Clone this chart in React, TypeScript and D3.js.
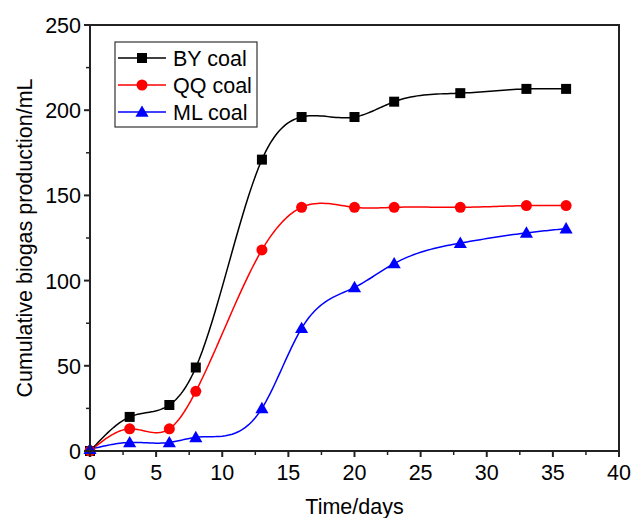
import React from "react";
import * as d3 from "d3";

// sampling days
const days = [0, 3, 6, 8, 13, 16, 20, 23, 28, 33, 36];

// cumulative biogas (mL) per coal
const byCoal = [0, 20, 27, 49, 171, 196, 196, 205, 210, 212.5, 212.5];
const qqCoal = [0, 13, 13, 35, 118, 143, 143, 143, 143, 144, 144];
const mlCoal = [1, 5, 5, 8, 25, 72, 96, 110, 122, 128, 130.5];

const seriesNames = ["BY coal", "QQ coal", "ML coal"];
const seriesColors = ["#000000", "#ff0000", "#0000ff"];
const seriesShapes = ["square", "circle", "triangle"];

const xTicks = [0, 5, 10, 15, 20, 25, 30, 35, 40];
const yTicks = [0, 50, 100, 150, 200, 250];

const W = 632;
const H = 518;
const margin = { top: 25, right: 13, bottom: 67, left: 90 };
const FONT = "'Liberation Sans', Arial, sans-serif";

// natural cubic spline y(x), sampled for drawing the smooth connecting line
function splinePoints(xs: number[], ys: number[], steps = 20): [number, number][] {
  const n = xs.length;
  const h = [];
  for (let i = 0; i < n - 1; i++) h.push(xs[i + 1] - xs[i]);
  const a = new Array(n).fill(0);
  const b = new Array(n).fill(1);
  const c = new Array(n).fill(0);
  const r = new Array(n).fill(0);
  for (let i = 1; i < n - 1; i++) {
    a[i] = h[i - 1];
    b[i] = 2 * (h[i - 1] + h[i]);
    c[i] = h[i];
    r[i] = 6 * ((ys[i + 1] - ys[i]) / h[i] - (ys[i] - ys[i - 1]) / h[i - 1]);
  }
  // Thomas algorithm
  for (let i = 1; i < n; i++) {
    const m = a[i] / b[i - 1];
    b[i] -= m * c[i - 1];
    r[i] -= m * r[i - 1];
  }
  const M = new Array(n).fill(0);
  M[n - 1] = r[n - 1] / b[n - 1];
  for (let i = n - 2; i >= 0; i--) M[i] = (r[i] - c[i] * M[i + 1]) / b[i];

  const out: [number, number][] = [];
  for (let i = 0; i < n - 1; i++) {
    for (let s = 0; s < steps; s++) {
      const t = xs[i] + (h[i] * s) / steps;
      const A = (xs[i + 1] - t) / h[i];
      const B = (t - xs[i]) / h[i];
      const v =
        A * ys[i] +
        B * ys[i + 1] +
        ((A * A * A - A) * M[i] + (B * B * B - B) * M[i + 1]) * (h[i] * h[i]) / 6;
      out.push([t, v]);
    }
  }
  out.push([xs[n - 1], ys[n - 1]]);
  return out;
}

const Marker = ({ shape, x, y, color }) => {
  if (shape === "square") {
    return <rect x={x - 5} y={y - 5} width={10} height={10} fill={color} />;
  }
  if (shape === "circle") {
    return <circle cx={x} cy={y} r={5.5} fill={color} />;
  }
  const tri = d3.symbol(d3.symbolTriangle, 75)();
  return <path d={tri} transform={`translate(${x},${y + 1})`} fill={color} />;
};

export default function App() {
  const x = d3
    .scaleLinear()
    .domain([0, 40])
    .range([margin.left, W - margin.right]);
  const y = d3
    .scaleLinear()
    .domain([0, 250])
    .range([H - margin.bottom, margin.top]);

  const allSeries = [byCoal, qqCoal, mlCoal];

  const line = d3
    .line<[number, number]>()
    .x((d) => x(d[0]))
    .y((d) => y(d[1]));

  const minorX = d3.range(2.5, 40, 5);
  const minorY = d3.range(25, 250, 50);
  const x0 = margin.left;
  const y0 = H - margin.bottom;

  return (
    <svg
      width={W}
      height={H}
      style={{ position: "absolute", left: 0, top: 0, background: "#fff" }}
      fontFamily={FONT}
    >
      {/* series lines */}
      {allSeries.map((vals, i) => (
        <path
          key={"l" + i}
          d={line(splinePoints(days, vals))}
          fill="none"
          stroke={seriesColors[i]}
          strokeWidth={1.5}
        />
      ))}
      {/* markers */}
      {allSeries.map((vals, i) =>
        days.map((d, j) => (
          <Marker
            key={i + "-" + j}
            shape={seriesShapes[i]}
            x={x(d)}
            y={y(vals[j])}
            color={seriesColors[i]}
          />
        ))
      )}

      {/* frame */}
      <rect
        x={x0}
        y={margin.top}
        width={W - margin.right - margin.left}
        height={y0 - margin.top}
        fill="none"
        stroke="#222"
        strokeWidth={2}
      />

      {/* x ticks */}
      {xTicks.map((t) => (
        <g key={"xt" + t}>
          <line x1={x(t)} x2={x(t)} y1={y0} y2={y0 + 6} stroke="#222" strokeWidth={2} />
          <text x={x(t)} y={y0 + 29} textAnchor="middle" fontSize={21.5} fill="#000">
            {t}
          </text>
        </g>
      ))}
      {minorX.map((t) => (
        <line key={"xm" + t} x1={x(t)} x2={x(t)} y1={y0} y2={y0 + 4} stroke="#222" strokeWidth={1.5} />
      ))}

      {/* y ticks */}
      {yTicks.map((t) => (
        <g key={"yt" + t}>
          <line x1={x0} x2={x0 - 6} y1={y(t)} y2={y(t)} stroke="#222" strokeWidth={2} />
          <text x={x0 - 9} y={y(t) + 8} textAnchor="end" fontSize={21.5} fill="#000">
            {t}
          </text>
        </g>
      ))}
      {minorY.map((t) => (
        <line key={"ym" + t} x1={x0} x2={x0 - 4} y1={y(t)} y2={y(t)} stroke="#222" strokeWidth={1.5} />
      ))}

      {/* axis titles */}
      <text x={(x0 + W - margin.right) / 2} y={514} textAnchor="middle" fontSize={21.5} fill="#000">
        Time/days
      </text>
      <text
        transform={`translate(32,${(margin.top + y0) / 2}) rotate(-90)`}
        textAnchor="middle"
        fontSize={21.5}
        fill="#000"
      >
        Cumulative biogas production/mL
      </text>

      {/* legend */}
      <rect x={115} y={42} width={142} height={85} fill="#fff" stroke="#333" strokeWidth={1.2} />
      {seriesNames.map((name, i) => {
        const ly = 58 + i * 27;
        return (
          <g key={"lg" + i}>
            <line x1={118} x2={166} y1={ly} y2={ly} stroke={seriesColors[i]} strokeWidth={1.5} />
            <Marker shape={seriesShapes[i]} x={142} y={ly} color={seriesColors[i]} />
            <text x={173} y={ly + 8} fontSize={21.5} fill="#000">
              {name}
            </text>
          </g>
        );
      })}
    </svg>
  );
}
